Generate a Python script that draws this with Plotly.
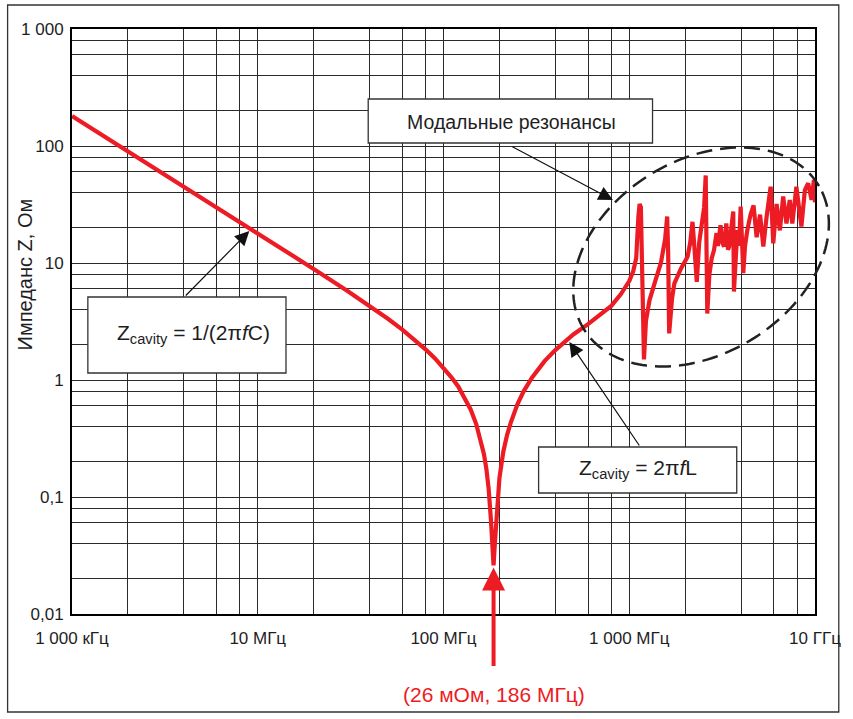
import numpy as np
import plotly.graph_objects as go

# Cavity impedance vs frequency (frequency in MHz, impedance in Ohm)
freq_mhz = [
    1, 1.5, 2, 3, 4, 5, 6, 8, 10, 15, 20, 30, 40, 50, 60, 70, 80, 90, 100,
    110, 120, 130, 140, 150, 160, 165, 170, 175, 180, 183, 186, 189, 192, 196,
    200, 205, 210, 220, 230, 250, 270, 300, 350, 400, 500, 600, 700, 800, 900,
    1000, 1050, 1090,
    # modal resonance region
    1120, 1137, 1155, 1175, 1200, 1230, 1285, 1380, 1480, 1560, 1600, 1620,
    1640, 1700, 1750, 1900, 2060, 2130, 2190, 2240, 2310, 2380, 2450, 2530,
    2580, 2610, 2630, 2700, 2780, 2860, 2950, 3000, 3100, 3170, 3240, 3330,
    3400, 3450, 3530, 3630, 3660, 3740, 3820, 3900, 3980, 4110, 4200, 4320,
    4500, 4670, 4850, 5060, 5270, 5490, 5770, 5960, 6210, 6470, 6740, 7020,
    7310, 7550, 7940, 8450, 8820, 9190, 9580, 9860, 10000,
]
z_ohm = [
    180, 120, 90, 60, 45, 36, 30, 22.5, 18, 12, 8.9, 5.85, 4.3, 3.35, 2.7, 2.2,
    1.83, 1.53, 1.28, 1.06, 0.88, 0.71, 0.56, 0.42, 0.29, 0.233, 0.175, 0.118,
    0.064, 0.041, 0.026, 0.040, 0.063, 0.102, 0.145, 0.19, 0.245, 0.34, 0.43,
    0.62, 0.8, 1.05, 1.45, 1.8, 2.45, 3.0, 3.6, 4.3, 5.4, 7.0, 8.5, 11,
    25, 32, 30, 8, 1.5, 3.2, 4.8, 7, 10, 16, 25, 12,
    2.5, 5, 6.7, 9, 11.3, 15, 22.5, 14, 6.9, 15, 22, 30,
    56, 20, 3.7, 8, 11, 12.9, 18, 14, 21, 15, 13.8, 21.8,
    13, 13.8, 20, 27.5, 5.7, 12, 19.1, 14, 30.3, 8.2, 14, 19,
    26, 31, 16.6, 25.9, 13.8, 25, 44.9, 14.7, 32, 19, 37, 21.8,
    34.6, 21.8, 44.9, 20.5, 42, 48, 34.6, 51.3, 33,
]

# Resonance point named in the red label
res_freq_mhz = 186
res_z_ohm = 0.026

# Axis ticks / gridlines
x_tickvals = [m * d for d in (1, 10, 100, 1000) for m in (1, 2, 4, 6, 8)] + [10000]
x_labels = {1: "1 000 кГц", 10: "10 МГц", 100: "100 МГц", 1000: "1 000 МГц", 10000: "10 ГГц"}
x_ticktext = [x_labels.get(v, "") for v in x_tickvals]

y_tickvals = [m * d for d in (0.01, 0.1, 1, 10, 100) for m in (1, 2, 4, 6, 8)] + [1000]
y_labels = {0.01: "0,01", 0.1: "0,1", 1: "1", 10: "10", 100: "100", 1000: "1 000"}
y_ticktext = [y_labels.get(round(v, 6), "") for v in y_tickvals]

RED = "#ed1c24"
INK = "#1e1e1e"
FONT = "Liberation Sans, Arial, sans-serif"

# plot-area geometry (pixels) used for placing decorations in paper units
L, R, T, B = 72, 822, 29, 614


def px(x):
    return (x - L) / (R - L)


def py(y):
    return (B - y) / (B - T)


fig = go.Figure()
fig.add_trace(go.Scatter(
    x=freq_mhz, y=z_ohm, mode="lines",
    line=dict(color=RED, width=4.2), hoverinfo="skip", showlegend=False,
))

axis_common = dict(
    type="log", showline=True, linewidth=2, linecolor="black", mirror=True,
    showgrid=True, gridcolor="#2a2a2a", gridwidth=1.2, zeroline=False,
    tickmode="array", ticks="outside", tickcolor="rgba(0,0,0,0)",
)
fig.update_xaxes(range=[0, 4], tickvals=x_tickvals, ticktext=x_ticktext,
                 ticklen=8, tickfont=dict(family=FONT, size=17, color=INK),
                 **axis_common)
fig.update_yaxes(range=[-2, 3], tickvals=y_tickvals, ticktext=y_ticktext,
                 ticklen=3, tickfont=dict(family=FONT, size=17, color=INK),
                 **axis_common)

shapes = []
# outer frame
shapes.append(dict(type="rect", xref="paper", yref="paper",
                   x0=px(7), x1=px(846), y0=py(712), y1=py(5),
                   line=dict(color="#333", width=1.3), layer="below"))

# dashed ellipse around the modal resonances
cx, cy, a, b, th = 707, 257, 138.6, 97.1, np.radians(30.8)
t = np.linspace(0, 2 * np.pi, 181)
ex = cx + a * np.cos(t) * np.cos(th) - b * np.sin(t) * np.sin(th)
ey = cy - (a * np.cos(t) * np.sin(th) + b * np.sin(t) * np.cos(th))
path = "M " + " L ".join(f"{px(u):.5f},{py(v):.5f}" for u, v in zip(ex, ey)) + " Z"
shapes.append(dict(type="path", xref="paper", yref="paper", path=path,
                   line=dict(color="#222", width=2.5, dash="16px,8px"),
                   layer="above"))

# label boxes
boxes = [(371, 99, 658, 143), (88, 297, 288, 373), (543, 447, 743, 493)]
for x0, y0, x1, y1 in boxes:
    shapes.append(dict(type="rect", xref="paper", yref="paper",
                       x0=px(x0), x1=px(x1), y0=py(y1), y1=py(y0),
                       fillcolor="white", line=dict(color="#333", width=1.3),
                       layer="above"))
fig.update_layout(shapes=shapes)

ann = []


def label(xp, yp, text, size, color=INK, angle=0, xref="paper"):
    return dict(x=xp, y=yp, xref=xref, yref="paper", text=text,
                showarrow=False, xanchor="center", yanchor="middle",
                textangle=angle, font=dict(family=FONT, size=size, color=color))


# box texts
ann.append(label(px(516), py(122), "Модальные резонансы", 19.5))
ann.append(label(px(195), py(334), "Z<sub>cavity</sub> = 1/(2π<i>f</i>C)", 21))
ann.append(label(px(643), py(469), "Z<sub>cavity</sub> = 2π<i>f</i>L", 21))

# black pointer arrows (tail -> tip), offsets in pixels
for (tx, ty), (hx, hy) in [((516, 146), (618, 200)),
                           ((186, 297), (251, 231)),
                           ((645, 447), (574, 342))]:
    ann.append(dict(x=px(hx), y=py(hy), xref="paper", yref="paper",
                    ax=tx - hx, ay=ty - hy,
                    text="", showarrow=True, arrowhead=2, arrowsize=2.4,
                    arrowwidth=1.2, arrowcolor="#111"))

# red arrow to the resonance minimum
ann.append(dict(x=np.log10(res_freq_mhz), y=np.log10(res_z_ohm),
                xref="x", yref="y", ax=0, ay=102, text="", showarrow=True,
                arrowhead=2, arrowsize=1.15, arrowwidth=4, arrowcolor=RED,
                standoff=2))
ann.append(label(np.log10(res_freq_mhz), py(694),
                 f"({res_z_ohm * 1000:.0f} мОм, {res_freq_mhz} МГц)", 21,
                 color=RED, xref="x"))

# y-axis title
ann.append(label(px(25), py(274), "Импеданс Z, Ом", 20, angle=-90))
fig.update_layout(annotations=ann)

fig.update_layout(
    width=853, height=719,
    margin=dict(l=L, r=853 - R, t=T, b=719 - B),
    paper_bgcolor="white", plot_bgcolor="white",
    font=dict(family=FONT, color=INK),
)

fig.write_html("out.html")
